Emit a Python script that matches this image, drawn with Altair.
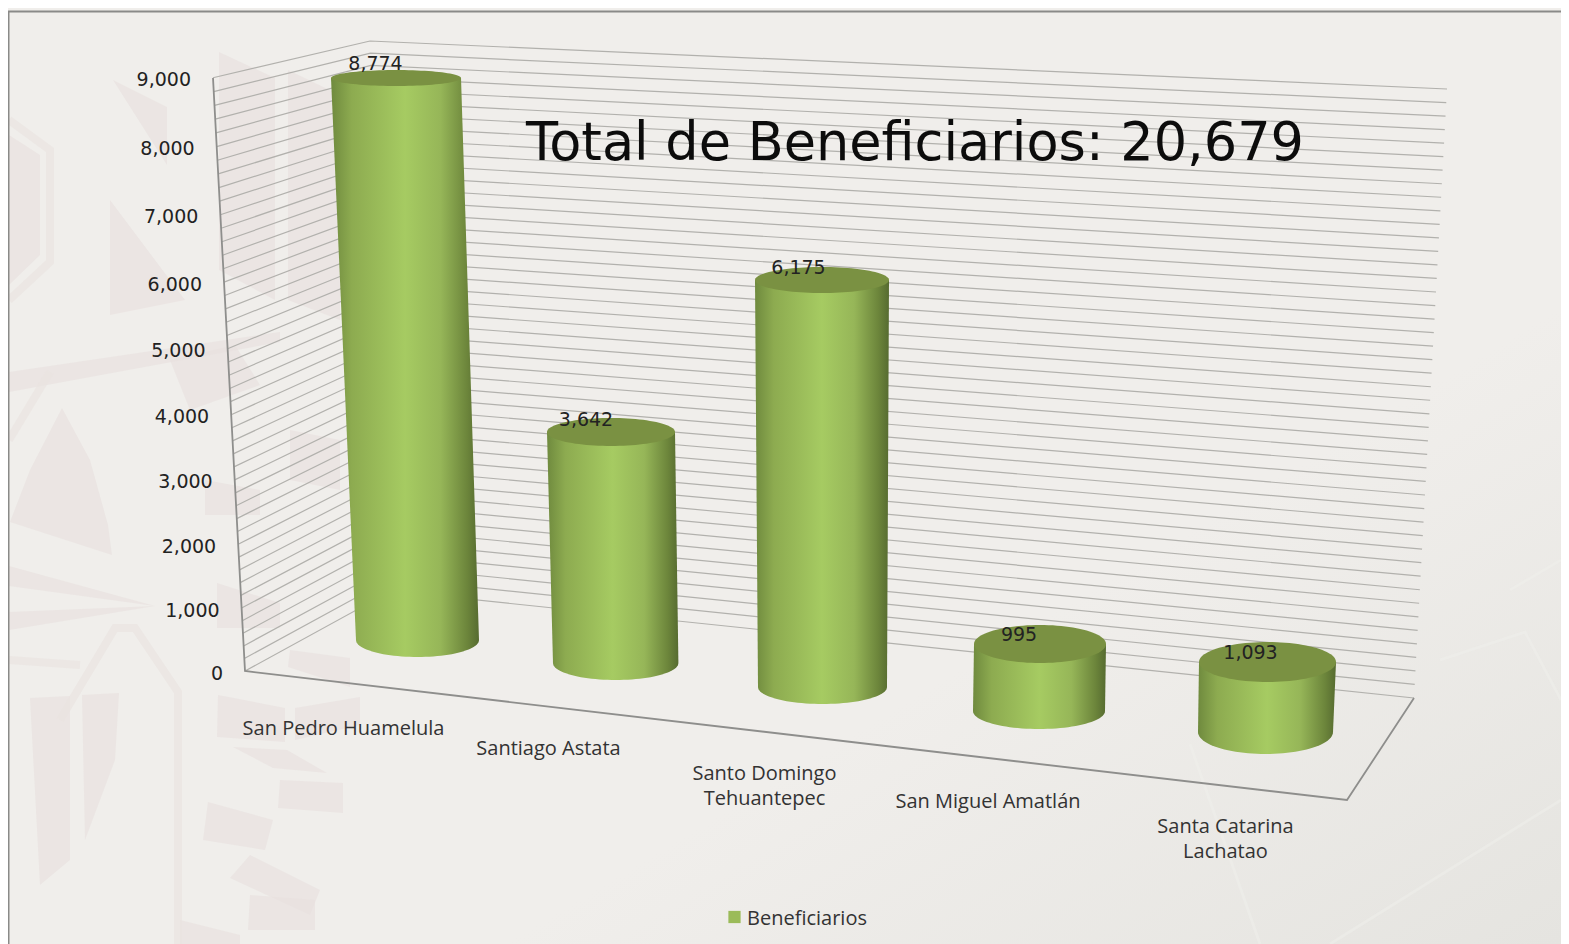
import math
import altair as alt
import pandas as pd

CATEGORIES = ["San Pedro Huamelula", "Santiago Astata", "Santo Domingo\nTehuantepec",
              "San Miguel Amatlán", "Santa Catarina\nLachatao"]
VALUES = [8774, 3642, 6175, 995, 1093]
VALUE_LABELS = ["8,774", "3,642", "6,175", "995", "1,093"]
TICKS = [0, 1000, 2000, 3000, 4000, 5000, 6000, 7000, 8000, 9000]
TICK_LABELS = ["0", "1,000", "2,000", "3,000", "4,000", "5,000", "6,000", "7,000", "8,000", "9,000"]
MINOR_STEP = 200
AXIS_MAX = 9000
TITLE = "Total de Beneficiarios: 20,679"
LEGEND = "Beneficiarios"

# ---- 3D box of the picture (page pixels) -------------------------------
FRONT_BOTTOM, FRONT_TOP = (245, 671), (213, 78)
BACK_L_BOTTOM, BACK_L_TOP = (391, 591), (370, 41)
BACK_R_BOTTOM, BACK_R_TOP = (1414, 698), (1447, 89)
FLOOR_FRONT_R = (1347, 800)

# cylinders: base centre, radii, px per unit, top centre x / radii
BASE_CX = [417.5, 615.7, 822.5, 1039, 1265.5]
BASE_CY = [640, 663, 687, 711, 732]
BASE_RX = [61.5, 62.7, 64.5, 66, 67.5]
BASE_RY = [17, 17, 17, 18, 22]
TOP_CX = [396, 611, 822, 1040, 1267.5]
TOP_RX = [65, 64, 67, 66, 68.5]
TOP_RY = [8, 14, 13, 19, 20]
PX_PER_UNIT = [0.06405, 0.06343, 0.06591, 0.06734, 0.06404]
VALUE_LABEL_POS = [(375.5, 63.5), (586, 419.5), (798.5, 267.5), (1019, 634.5), (1250.5, 652.5)]
CAT_LABEL_POS = [(343.5, 729), (548.5, 749), (764.5, 774), (988, 802), (1225.5, 827)]

W, H = 1553, 936
sx = alt.Scale(domain=[8, 8 + W], range=[0, W], nice=False, zero=False)
sy = alt.Scale(domain=[8 + H, 8], range=[H, 0], nice=False, zero=False)
X = alt.X("x:Q", scale=sx, axis=None)
Y = alt.Y("y:Q", scale=sy, axis=None)


def lerp(a, b, t):
    return a + (b - a) * t


def wall(p0, p1, t):
    return lerp(p0[0], p1[0], t), lerp(p0[1], p1[1], t)


def front_frac(v):
    return (0.0627 * v + 3.7e-7 * v * v) / 594.0


def lines(rows, color, width, opacity=1.0, join="miter"):
    return alt.Chart(pd.DataFrame(rows)).mark_line(
        color=color, strokeWidth=width, opacity=opacity, clip=False, strokeJoin=join
    ).encode(x=X, y=Y, detail="id:N", order="i:Q")


def poly_rows(pid, pts, out):
    """spans of a convex polygon, one row per vertex height"""
    ys = sorted({p[1] for p in pts})
    n = len(pts)
    for y in ys:
        xs = []
        for k in range(n):
            a, b = pts[k], pts[(k + 1) % n]
            if a[1] == b[1]:
                if a[1] == y:
                    xs += [a[0], b[0]]
            elif min(a[1], b[1]) <= y <= max(a[1], b[1]):
                xs.append(lerp(a[0], b[0], (y - a[1]) / (b[1] - a[1])))
        out.append({"id": pid, "y": y, "x": min(xs), "x2": max(xs)})


# ---- paper ------------------------------------------------------------
paper = alt.Chart(pd.DataFrame([{"x": 8, "x2": 8 + W, "y": 8, "y2": 8 + H}])).mark_rect(
    color={"gradient": "linear", "x1": 0, "y1": 0, "x2": 1, "y2": 1,
           "stops": [{"offset": 0, "color": "#f0eeeb"}, {"offset": 0.66, "color": "#f0eeeb"},
                     {"offset": 1, "color": "#e5e4e0"}]}
).encode(x=X, x2="x2:Q", y=Y, y2="y2:Q")

# ---- faint watermark ---------------------------------------------------
WATER = [
    [(110, 200), (185, 300), (110, 315)],
    [(113, 80), (167, 107), (167, 165)],
    [(219, 52), (275, 78), (275, 300), (219, 270)],
    [(288, 70), (340, 95), (340, 320), (288, 300)],
    [(9, 135), (40, 155), (40, 255), (9, 285)],
    [(62, 408), (90, 460), (108, 525), (112, 555), (10, 522), (30, 470)],
    [(30, 698), (70, 696), (70, 860), (40, 885)],
    [(82, 695), (119, 693), (115, 760), (85, 840)],
    [(217, 583), (280, 603), (280, 628), (217, 628)],
    [(290, 650), (350, 658), (350, 687), (288, 667)],
    [(218, 695), (285, 708), (285, 742), (217, 737)],
    [(295, 708), (360, 697), (360, 725), (295, 740)],
    [(280, 780), (343, 783), (343, 813), (278, 808)],
    [(233, 747), (287, 750), (327, 773), (273, 768)],
    [(208, 802), (273, 820), (265, 850), (203, 840)],
    [(250, 855), (320, 890), (310, 915), (230, 878)],
    [(250, 895), (315, 900), (315, 930), (248, 930)],
    [(170, 360), (235, 345), (260, 385), (190, 410)],
    [(205, 480), (260, 490), (260, 515), (205, 515)],
    [(9, 372), (280, 332), (280, 342), (9, 392)],
    [(9, 566), (155, 606), (9, 586)],
    [(9, 612), (155, 606), (9, 630)],
    [(290, 430), (340, 440), (340, 490), (290, 480)],
    [(180, 920), (240, 935), (240, 944), (180, 944)],
]
water_rows = []
for n, pts in enumerate(WATER):
    poly_rows(n, pts, water_rows)
water = alt.Chart(pd.DataFrame(water_rows)).mark_area(
    orient="horizontal", color="#e8e1de", opacity=0.65
).encode(x=X, x2="x2:Q", y=Y, detail="id:N")

RINGS = [
    [(60, 720), (115, 628), (135, 628), (178, 692), (178, 944)],
    [(9, 120), (50, 150), (50, 262), (9, 300)],
    [(9, 440), (50, 372)],
    [(9, 660), (80, 665)],
]
ring_rows = [{"id": n, "i": i, "x": p[0], "y": p[1]} for n, r in enumerate(RINGS) for i, p in enumerate(r)]
rings = lines(ring_rows, "#e9e3e0", 8, 0.65)

PALE = [
    [(1440, 660), (1525, 632), (1561, 700)],
    [(1330, 944), (1561, 800)],
    [(1190, 744), (1260, 944)],
    [(1510, 590), (1561, 560)],
]
pale_rows = [{"id": n, "i": i, "x": p[0], "y": p[1]} for n, r in enumerate(PALE) for i, p in enumerate(r)]
pale = lines(pale_rows, "#f0efeb", 3, 0.5)

# ---- gridlines, walls --------------------------------------------------
grid_rows = []
for v in range(0, AXIS_MAX + 1, MINOR_STEP):
    a = wall(FRONT_BOTTOM, FRONT_TOP, front_frac(v))
    t = v / AXIS_MAX
    b = wall(BACK_L_BOTTOM, BACK_L_TOP, t)
    c = wall(BACK_R_BOTTOM, BACK_R_TOP, t)
    for i, p in enumerate((a, b, c)):
        grid_rows.append({"id": v, "i": i, "x": p[0], "y": p[1]})
grid = lines(grid_rows, "#b2b1ad", 1.2)

frame_rows = [{"id": "frame", "i": i, "x": p[0], "y": p[1]}
              for i, p in enumerate([(8.5, 944), (8.5, 11.5), (1561, 11.5)])]
frame = lines(frame_rows, "#8a8a88", 2)

axis_rows = []
for n, poly in enumerate([[FRONT_TOP, FRONT_BOTTOM, FLOOR_FRONT_R, BACK_R_BOTTOM]]):
    for i, p in enumerate(poly):
        axis_rows.append({"id": n, "i": i, "x": p[0], "y": p[1]})
axis = lines(axis_rows, "#8e8e8c", 1.8)

# ---- cylinders ---------------------------------------------------------
GRAD = {"gradient": "linear", "x1": 0, "y1": 0, "x2": 1, "y2": 0,
        "stops": [{"offset": 0, "color": "#6f8a3e"}, {"offset": 0.14, "color": "#8dab50"},
                  {"offset": 0.5, "color": "#a6cb62"}, {"offset": 0.74, "color": "#96b658"},
                  {"offset": 0.92, "color": "#6c853b"}, {"offset": 1, "color": "#566b30"}]}
side_rows, cap_rows = [], []
for k, v in enumerate(VALUES):
    cy_b, cy_t = BASE_CY[k], BASE_CY[k] - v * PX_PER_UNIT[k]
    side_rows.append({"id": k, "y": cy_t, "x": TOP_CX[k] - TOP_RX[k], "x2": TOP_CX[k] + TOP_RX[k]})
    side_rows.append({"id": k, "y": cy_b, "x": BASE_CX[k] - BASE_RX[k], "x2": BASE_CX[k] + BASE_RX[k]})
    for j in range(1, 25):
        a = j / 24 * math.pi / 2
        half = BASE_RX[k] * math.cos(a)
        side_rows.append({"id": k, "y": cy_b + BASE_RY[k] * math.sin(a),
                          "x": BASE_CX[k] - half, "x2": BASE_CX[k] + half})
    for j in range(-24, 25):
        a = j / 24 * math.pi / 2
        half = TOP_RX[k] * math.cos(a)
        cap_rows.append({"id": k, "y": cy_t + TOP_RY[k] * math.sin(a),
                         "x": TOP_CX[k] - half, "x2": TOP_CX[k] + half})
sides = alt.Chart(pd.DataFrame(side_rows)).mark_area(orient="horizontal", color=GRAD).encode(
    x=X, x2="x2:Q", y=Y, detail="id:N")
caps = alt.Chart(pd.DataFrame(cap_rows)).mark_area(orient="horizontal", color="#7a9142").encode(
    x=X, x2="x2:Q", y=Y, detail="id:N")


# ---- text --------------------------------------------------------------
def text(rows, font, size, color="#222222", align="center", **kw):
    return alt.Chart(pd.DataFrame(rows)).mark_text(
        font=font, fontSize=size, color=color, align=align, baseline="middle", **kw
    ).encode(x=X, y=Y, text="t:N")


tick_rows = []
for v, lab in zip(TICKS, TICK_LABELS):
    p = wall(FRONT_BOTTOM, FRONT_TOP, front_frac(v))
    tick_rows.append({"x": p[0] - 22, "y": p[1] + 2.5, "t": lab})
ticks = text(tick_rows, "DejaVu Sans", 19, align="right")
val_labels = text([{"x": p[0], "y": p[1], "t": t} for p, t in zip(VALUE_LABEL_POS, VALUE_LABELS)],
                  "DejaVu Sans", 19)
cat_labels = text([{"x": p[0], "y": p[1], "t": t} for p, t in zip(CAT_LABEL_POS, CATEGORIES)],
                  "Open Sans", 20, color="#333333", lineBreak="\n", lineHeight=25)
title = text([{"x": 915, "y": 144, "t": TITLE}], "DejaVu Sans", 52.5, color="#0c0c0c")
legend_mark = alt.Chart(pd.DataFrame([{"x": 734.5, "y": 917}])).mark_square(
    size=150, color="#9bbb59", opacity=1).encode(x=X, y=Y)
legend_text = text([{"x": 747, "y": 919, "t": LEGEND}], "Open Sans", 20, color="#333333", align="left")

chart = alt.layer(
    paper, water, rings, pale, frame, grid, axis, sides, caps,
    ticks, val_labels, cat_labels, title, legend_mark, legend_text
).properties(width=W, height=H, padding=0, autosize="none").configure_view(stroke=None)

chart.save("out.html", embed_options={"renderer": "svg", "actions": False})
